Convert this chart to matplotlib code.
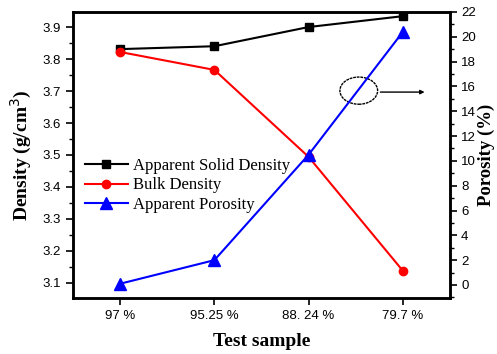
import matplotlib
matplotlib.use("Agg")
import matplotlib.pyplot as plt
from matplotlib.patches import Ellipse
from matplotlib.ticker import MultipleLocator

samples = ["97 %", "95.25 %", "88. 24 %", "79.7 %"]
solid_density = [3.831, 3.840, 3.900, 3.934]
bulk_density = [3.822, 3.766, 3.494, 3.138]
porosity = [0.1, 2.0, 10.5, 20.4]

serif = "Liberation Serif"
sans = "Liberation Sans"

fig = plt.figure(figsize=(4.97, 3.54), dpi=100)
ax = fig.add_axes([73 / 497, 1 - 298 / 354, (450 - 73) / 497, (298 - 12) / 354])
ax2 = ax.twinx()

x = range(len(samples))
l1, = ax.plot(x, solid_density, color="black", marker="s", markersize=6, lw=1.5,
              label="Apparent Solid Density")
l2, = ax.plot(x, bulk_density, color="red", marker="o", markersize=6, lw=1.5,
              label="Bulk Density")
l3, = ax2.plot(x, porosity, color="blue", marker="^", markersize=8, lw=1.5,
               label="Apparent Porosity")

ax.set_xlim(-0.5, 3.5)
ax.set_ylim(3.053, 3.947)
ax2.set_ylim(-1.05, 22.0)

ax.set_xticks(list(x))
ax.set_xticklabels(samples, fontfamily=sans, fontsize=9.5)
ax.yaxis.set_major_locator(MultipleLocator(0.1))
ax.yaxis.set_minor_locator(MultipleLocator(0.05))
ax2.yaxis.set_major_locator(MultipleLocator(2))
ax2.yaxis.set_minor_locator(MultipleLocator(1))

for lab in ax.get_yticklabels():
    lab.set_fontfamily(sans)
    lab.set_fontsize(9.5)
for lab in ax2.get_yticklabels():
    lab.set_fontfamily(sans)
    lab.set_fontsize(9.5)

ax.tick_params(axis="both", which="major", direction="out", length=5, width=1.2)
ax.tick_params(axis="y", which="minor", direction="out", length=3, width=1.0)
ax2.tick_params(axis="y", which="major", direction="out", length=5, width=1.2, pad=3)
ax2.tick_params(axis="y", which="minor", direction="out", length=3, width=1.0)

for a in (ax, ax2):
    for s in a.spines.values():
        s.set_linewidth(1.8)

ax.set_xlabel("Test sample", fontfamily=serif, fontweight="bold", fontsize=14, labelpad=8)
ax.set_ylabel("Density (g/cm$^3$)", fontfamily=serif, fontweight="bold", fontsize=14, labelpad=6)
ax2.set_ylabel("Porosity (%)", fontfamily=serif, fontweight="bold", fontsize=13.5, labelpad=1)

ax.legend(handles=[l1, l2, l3], loc="upper left", bbox_to_anchor=(0.0, 0.53),
          frameon=False, prop={"family": serif, "size": 12},
          handlelength=2.6, handletextpad=0.3, labelspacing=0.2, borderaxespad=0.3)

# circle marking the porosity curve, with arrow towards the right axis
ell = Ellipse((0.758, 0.725), 0.1, 0.095, transform=ax.transAxes,
              fill=False, edgecolor="black", lw=1.0, ls=(0, (2, 0.6)))
ax.add_patch(ell)
ax.annotate("", xy=(0.94, 0.72), xytext=(0.808, 0.72), xycoords="axes fraction",
            arrowprops=dict(arrowstyle="-|>", color="black", lw=1.0,
                            mutation_scale=6))

fig.savefig("out.png", dpi=100)
